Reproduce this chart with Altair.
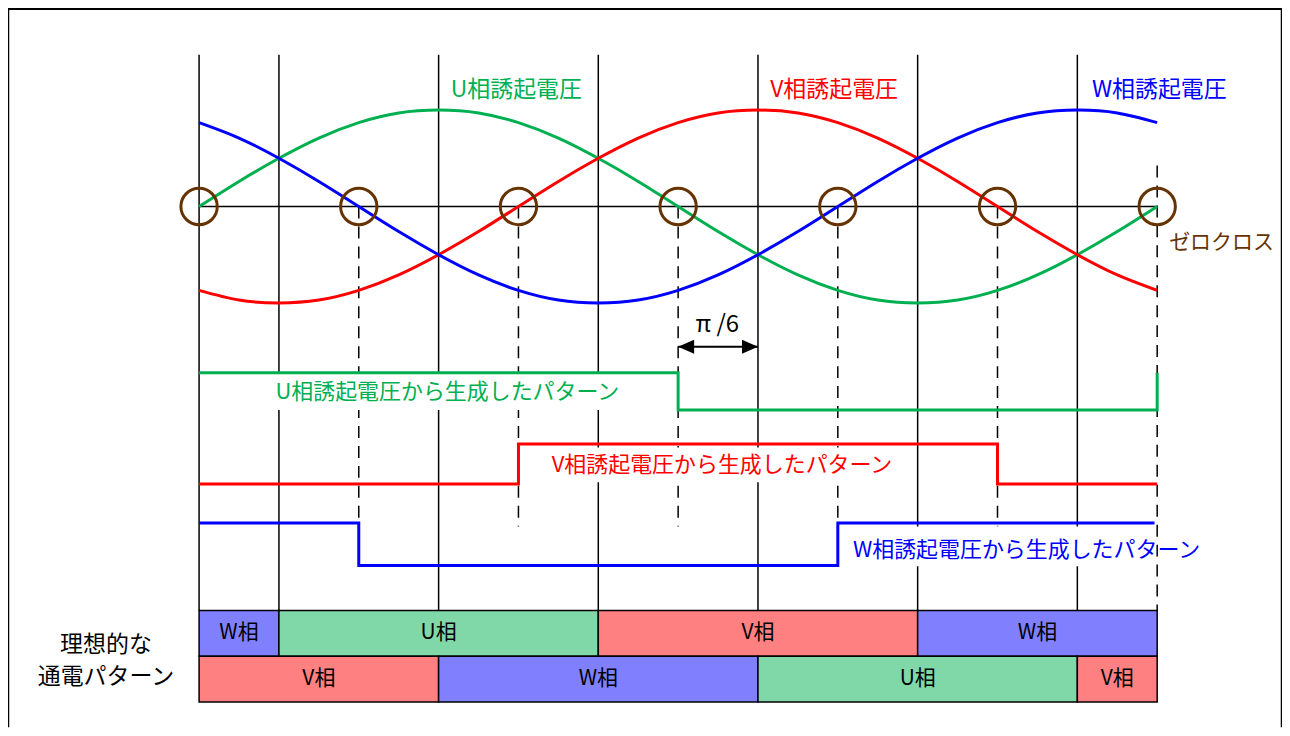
import altair as alt
import pandas as pd

# ---------------- data ----------------
angles = [0, 15, 30, 45, 60, 75, 90, 105, 120, 135, 150, 165, 180,
          195, 210, 225, 240, 255, 270, 285, 300, 315, 330, 345, 360]
u_emf = [0, 0.26, 0.5, 0.71, 0.87, 0.97, 1.0, 0.97, 0.87, 0.71, 0.5, 0.26, 0,
         -0.26, -0.5, -0.71, -0.87, -0.97, -1.0, -0.97, -0.87, -0.71, -0.5, -0.26, 0]
v_emf = [-0.87, -0.97, -1.0, -0.97, -0.87, -0.71, -0.5, -0.26, 0, 0.26, 0.5, 0.71, 0.87,
         0.97, 1.0, 0.97, 0.87, 0.71, 0.5, 0.26, 0, -0.26, -0.5, -0.71, -0.87]
w_emf = [0.87, 0.71, 0.5, 0.26, 0, -0.26, -0.5, -0.71, -0.87, -0.97, -1.0, -0.97, -0.87,
         -0.71, -0.5, -0.26, 0, 0.26, 0.5, 0.71, 0.87, 0.97, 1.0, 0.97, 0.87]

phase_colors = {"U": "#00B050", "V": "#FF0000", "W": "#0000FF"}
brown = "#663300"

zero_cross = [0, 60, 120, 180, 240, 300, 360]
solid_guides = [0, 30, 90, 150, 210, 270, 330]
dashed_guides = [60, 120, 180, 240, 300]
end_guide = [360]

# switching patterns (angle of each edge, level after edge)
u_pat_x = [0, 180, 360]
u_pat_lv = ["H", "L", "H"]
v_pat_x = [0, 120, 300, 360]
v_pat_lv = ["L", "H", "L", "L"]
w_pat_x = [0, 60, 240, 359]
w_pat_lv = ["H", "L", "H", "H"]
pat_levels = {"U": (-1.724, -2.11), "V": (-2.462, -2.879), "W": (-3.282, -3.724)}

# ideal conduction pattern
row1_start = [0, 30, 150, 270]
row1_end = [30, 150, 270, 360]
row1_phase = ["W", "U", "V", "W"]
row2_start = [0, 90, 210, 330]
row2_end = [90, 210, 330, 360]
row2_phase = ["V", "W", "U", "V"]
bar_fill = {"U": "#80D8A8", "V": "#FF8080", "W": "#8080FF"}

header_labels = ["U相誘起電圧", "V相誘起電圧", "W相誘起電圧"]
header_x = [119.2, 238.6, 360.8]
pattern_labels = ["U相誘起電圧から生成したパターン", "V相誘起電圧から生成したパターン",
                  "W相誘起電圧から生成したパターン"]
pattern_label_x = [28.7, 132.5, 245.7]
pattern_label_y = [-1.924, -2.679, -3.559]
box_x0 = [26.4, 129.5, 243.8]
box_x1 = [159.5, 262.5, 358.5]
box_y0 = [-1.737, -2.50, -3.32]
box_y1 = [-2.11, -2.86, -3.73]

FONT = "Noto Sans CJK JP"
X_DOMAIN = [-71.8, 406.9]
Y_DOMAIN = [-5.4, 2.05]


def X(f):
    return alt.X(f"{f}:Q", scale=alt.Scale(domain=X_DOMAIN), axis=None)


def Y(f):
    return alt.Y(f"{f}:Q", scale=alt.Scale(domain=Y_DOMAIN), axis=None)


# ---------------- tables ----------------
sine_df = pd.concat([
    pd.DataFrame({"deg": angles, "v": vals, "phase": p, "col": phase_colors[p]})
    for p, vals in (("U", u_emf), ("V", v_emf), ("W", w_emf))
])

rows = []
for p, xs, lvs in (("U", u_pat_x, u_pat_lv), ("V", v_pat_x, v_pat_lv), ("W", w_pat_x, w_pat_lv)):
    hi, lo = pat_levels[p]
    for x, lv in zip(xs, lvs):
        rows.append({"deg": x, "lvl": hi if lv == "H" else lo, "phase": p, "col": phase_colors[p]})
pat_df = pd.DataFrame(rows)

bars = []
for s, e, p in zip(row1_start, row1_end, row1_phase):
    bars.append({"x0": s, "x1": e, "y0": -4.19, "y1": -4.665, "fill": bar_fill[p], "lab": f"{p}相"})
for s, e, p in zip(row2_start, row2_end, row2_phase):
    bars.append({"x0": s, "x1": e, "y0": -4.665, "y1": -5.14, "fill": bar_fill[p], "lab": f"{p}相"})
bar_df = pd.DataFrame(bars)
bar_df["xm"] = (bar_df["x0"] + bar_df["x1"]) / 2
bar_df["ym"] = (bar_df["y0"] + bar_df["y1"]) / 2

# ---------------- layers ----------------
frame = alt.Chart(pd.DataFrame({"x": [X_DOMAIN[0], X_DOMAIN[1]]})).mark_rule(
    color="black", strokeWidth=2.5).encode(
    x=X("x"), y=alt.value(0), y2=alt.value(720))
frame_top = alt.Chart(pd.DataFrame({"y": [Y_DOMAIN[1]]})).mark_rule(
    color="black", strokeWidth=2.5).encode(y=Y("y"), x=alt.value(0), x2=alt.value(1277))

solid = alt.Chart(pd.DataFrame({"x": solid_guides, "a": 1.574, "b": -4.19})).mark_rule(
    color="black", strokeWidth=1.5).encode(x=X("x"), y=Y("a"), y2="b:Q")
dashed = alt.Chart(pd.DataFrame({"x": dashed_guides, "a": 0.0, "b": -3.32})).mark_rule(
    color="black", strokeWidth=1.5, strokeDash=[12, 8]).encode(x=X("x"), y=Y("a"), y2="b:Q")
dashed_end = alt.Chart(pd.DataFrame({"x": end_guide, "a": 0.425, "b": -4.19})).mark_rule(
    color="black", strokeWidth=1.5, strokeDash=[12, 8]).encode(x=X("x"), y=Y("a"), y2="b:Q")
zero_line = alt.Chart(pd.DataFrame({"a": [0], "b": [360], "y": [0]})).mark_rule(
    color="black", strokeWidth=1.5).encode(x=X("a"), x2="b:Q", y=Y("y"))

boxes = alt.Chart(pd.DataFrame({"a": box_x0, "b": box_x1, "c": box_y0, "d": box_y1})).mark_rect(
    color="white").encode(x=X("a"), x2="b:Q", y=Y("c"), y2="d:Q")

sines = alt.Chart(sine_df).mark_line(strokeWidth=3, interpolate="natural").encode(
    x=X("deg"), y=Y("v"), detail="phase:N", color=alt.Color("col:N", scale=None))

circles = alt.Chart(pd.DataFrame({"x": zero_cross, "y": 0.0})).mark_point(
    shape="circle", size=1330, strokeWidth=3, color=brown, filled=False, opacity=1).encode(
    x=X("x"), y=Y("y"))

patterns = alt.Chart(pat_df).mark_line(strokeWidth=3, interpolate="step-after").encode(
    x=X("deg"), y=Y("lvl"), detail="phase:N", color=alt.Color("col:N", scale=None))

bar_rects = alt.Chart(bar_df).mark_rect(stroke="black", strokeWidth=1.5).encode(
    x=X("x0"), x2="x1:Q", y=Y("y0"), y2="y1:Q", fill=alt.Fill("fill:N", scale=None))
bar_text = alt.Chart(bar_df).mark_text(font=FONT, fontSize=21, color="black").encode(
    x=X("xm"), y=Y("ym"), text="lab:N")

head_df = pd.DataFrame({"x": header_x, "y": 1.207, "t": header_labels,
                        "col": [phase_colors[p] for p in "UVW"]})
headers = alt.Chart(head_df).mark_text(font=FONT, fontSize=23).encode(
    x=X("x"), y=Y("y"), text="t:N", color=alt.Color("col:N", scale=None))

plab_df = pd.DataFrame({"x": pattern_label_x, "y": pattern_label_y, "t": pattern_labels,
                        "col": [phase_colors[p] for p in "UVW"]})
plabels = alt.Chart(plab_df).mark_text(font=FONT, fontSize=22, align="left").encode(
    x=X("x"), y=Y("y"), text="t:N", color=alt.Color("col:N", scale=None))

zc_label = alt.Chart(pd.DataFrame({"x": [364.5], "y": [-0.382], "t": ["ゼロクロス"]})).mark_text(
    font=FONT, fontSize=21, align="left", color=brown).encode(x=X("x"), y=Y("y"), text="t:N")

pi_label = alt.Chart(pd.DataFrame({"x": [194.7], "y": [-1.23], "t": ["π /6"]})).mark_text(
    font=FONT, fontSize=24, color="black").encode(x=X("x"), y=Y("y"), text="t:N")

arrow_line = alt.Chart(pd.DataFrame({"a": [180], "b": [210], "y": [-1.455]})).mark_rule(
    color="black", strokeWidth=2).encode(x=X("a"), x2="b:Q", y=Y("y"))
arrow_l = alt.Chart(pd.DataFrame({"x": [180], "y": [-1.455]})).mark_point(
    shape="M0,0L2,-0.875L2,0.875Z", size=256, filled=True, color="black", opacity=1).encode(
    x=X("x"), y=Y("y"))
arrow_r = alt.Chart(pd.DataFrame({"x": [210], "y": [-1.455]})).mark_point(
    shape="M0,0L-2,-0.875L-2,0.875Z", size=256, filled=True, color="black", opacity=1).encode(
    x=X("x"), y=Y("y"))

left_df = pd.DataFrame({"x": [-35.0, -35.0], "y": [-4.55, -4.88], "t": ["理想的な", "通電パターン"]})
left_label = alt.Chart(left_df).mark_text(font=FONT, fontSize=23, color="black").encode(
    x=X("x"), y=Y("y"), text="t:N")

chart = alt.layer(
    frame, frame_top, solid, dashed, dashed_end, zero_line, boxes, sines, circles,
    patterns, bar_rects, bar_text, headers, plabels, zc_label, pi_label,
    arrow_line, arrow_l, arrow_r, left_label
).properties(
    width=1277, height=720,
    autosize=alt.AutoSizeParams(type="none"),
    padding=0,
).configure_view(stroke=None)

chart.save("out.html", embed_options={"renderer": "svg", "actions": False})
